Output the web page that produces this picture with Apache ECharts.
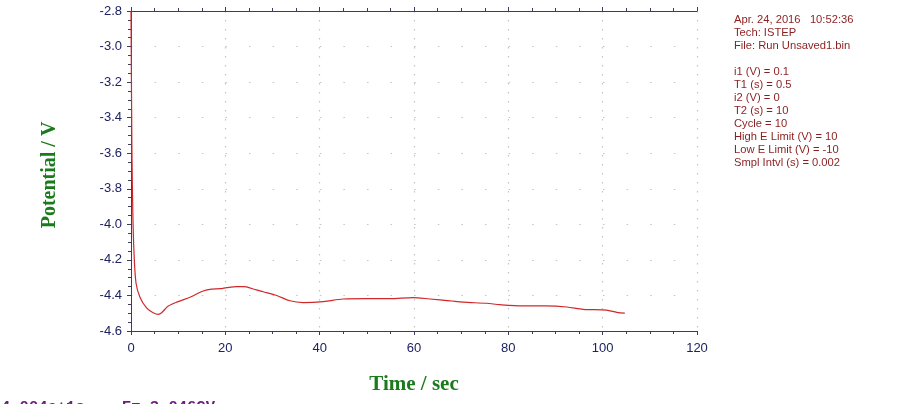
<!DOCTYPE html>
<html>
<head>
<meta charset="utf-8">
<script src="https://cdn.jsdelivr.net/npm/echarts@6/dist/echarts.min.js"></script>
<style>
    html, body { margin: 0; padding: 0; background: #fff; }
    #chart { width: 900px; height: 404px; }
</style>
</head>
<body>
<div id="chart"></div>
<script>
    // data
    const timeData = [0, 0.2, 0.4, 0.64, 1.06, 1.9, 3.3, 4.7, 5.8, 6.5, 7.9, 10, 12.5, 15.3, 17.1, 18.9, 20.3, 22.4,
        23.8, 24.5, 26.6, 28, 30.9, 33.7, 36.5, 40.8, 45, 50, 54.9, 59.8, 63.4, 67.6, 70.4, 75.4, 78.2, 83.2, 88.1,
        92.4, 95.9, 100.8, 103, 104.7];
    const potentialData = [-2.8, -3.6, -3.95, -4.16, -4.33, -4.41, -4.47, -4.497, -4.506, -4.497, -4.46, -4.435, -4.41,
        -4.375, -4.364, -4.362, -4.356, -4.35, -4.35, -4.352, -4.369, -4.379, -4.40, -4.43, -4.44, -4.435, -4.42,
        -4.418, -4.418, -4.412, -4.42, -4.43, -4.438, -4.444, -4.452, -4.459, -4.459, -4.465, -4.478, -4.483,
        -4.495, -4.5];
    const infoLines = ['Apr. 24, 2016   10:52:36', 'Tech: ISTEP', 'File: Run Unsaved1.bin', '',
        'i1 (V) = 0.1', 'T1 (s) = 0.5', 'i2 (V) = 0', 'T2 (s) = 10', 'Cycle = 10',
        'High E Limit (V) = 10', 'Low E Limit (V) = -10', 'Smpl Intvl (s) = 0.002'];
    const cursorText = '4.004e+1s,   E=-3.046CV';

    const axisColor = '#3a3d5c';
    const labelColor = '#1e2262';
    const gridColor = '#c4c4c4';

    const points = timeData.map((t, i) => [t, potentialData[i]]);

    const infoGraphics = infoLines.map((txt, i) => ({
        type: 'text',
        left: 734,
        top: 14.5 + i * 12.97,
        style: {
            text: txt,
            fill: '#8b1f1f',
            font: '11.2px "Liberation Sans", Arial, sans-serif'
        }
    }));

    let chart = echarts.init(document.getElementById('chart'));
    chart.setOption({
        animation: false,
        grid: {left: 131, right: 203, top: 11, bottom: 73},
        xAxis: [
            {
                type: 'value', position: 'bottom', min: 0, max: 120, interval: 20,
                axisLine: {lineStyle: {color: axisColor, width: 1}},
                axisTick: {length: 4, lineStyle: {color: axisColor}},
                minorTick: {show: true, splitNumber: 4, length: 3, lineStyle: {color: axisColor}},
                axisLabel: {color: labelColor, fontSize: 13, margin: 11, fontFamily: '"Liberation Sans", Arial'},
                splitLine: {show: true, lineStyle: {color: gridColor, type: [1.5, 7.5], width: 1.2}}
            },
            {
                type: 'value', position: 'top', min: 0, max: 120, interval: 20,
                axisLine: {show: true, lineStyle: {color: axisColor, width: 1}},
                axisTick: {show: true, length: 4, lineStyle: {color: axisColor}},
                minorTick: {show: true, splitNumber: 4, length: 3, lineStyle: {color: axisColor}},
                axisLabel: {show: false},
                splitLine: {show: false}
            }
        ],
        yAxis: [
            {
                type: 'value', position: 'left', min: -4.6, max: -2.8, interval: 0.2,
                axisLine: {show: true, lineStyle: {color: axisColor, width: 1}},
                axisTick: {show: true, length: 4, lineStyle: {color: axisColor}},
                minorTick: {show: true, splitNumber: 4, length: 3, lineStyle: {color: axisColor}},
                axisLabel: {
                    color: labelColor, fontSize: 13, margin: 9, fontFamily: '"Liberation Sans", Arial',
                    formatter: v => v.toFixed(1)
                },
                splitLine: {show: true, lineStyle: {color: gridColor, type: [1.5, 22.1], width: 1.2}}
            },
            {
                type: 'value', position: 'right', min: -4.6, max: -2.8, interval: 0.2,
                axisLine: {show: true, lineStyle: {color: axisColor, width: 1}},
                axisTick: {show: true, inside: true, length: 4, lineStyle: {color: axisColor}},
                minorTick: {show: true, splitNumber: 4, length: 3, lineStyle: {color: axisColor}},
                axisLabel: {show: false},
                splitLine: {show: false}
            }
        ],
        series: [
            {
                type: 'line',
                data: points,
                xAxisIndex: 0,
                yAxisIndex: 0,
                symbol: 'none',
                smooth: 0.3,
                lineStyle: {color: '#d0282a', width: 1.2}
            }
        ],
        graphic: [
            {
                type: 'text', x: 50, y: 175, rotation: Math.PI / 2,
                style: {
                    text: 'Potential / V', fill: '#1b7a1b', align: 'center', verticalAlign: 'middle',
                    font: 'bold 20px "Liberation Serif", "Times New Roman", serif'
                }
            },
            {
                type: 'text', x: 414, y: 385,
                style: {
                    text: 'Time / sec', fill: '#1b7a1b', align: 'center', verticalAlign: 'middle',
                    font: 'bold 21px "Liberation Serif", "Times New Roman", serif'
                }
            },
            {
                type: 'text', x: 1, y: 399,
                style: {
                    text: cursorText, fill: '#6e1c7e', align: 'left', verticalAlign: 'top',
                    font: 'bold 15.5px "Liberation Mono", "Courier New", monospace'
                }
            },
            ...infoGraphics
        ]
    });
</script>
</body>
</html>
